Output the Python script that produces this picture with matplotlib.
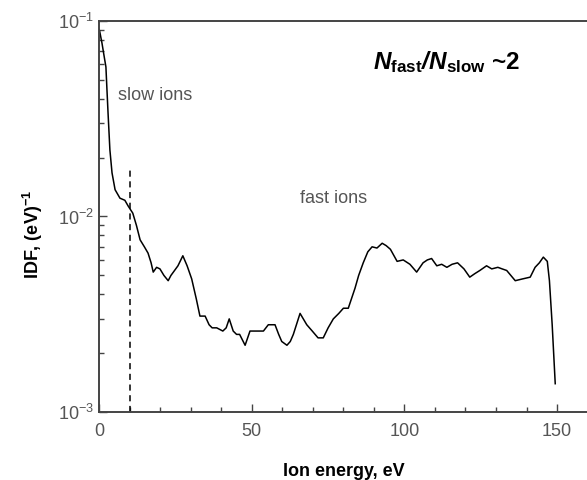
import matplotlib.pyplot as plt
import numpy as np

plt.rcParams['font.family'] = ['Liberation Sans', 'DejaVu Sans']
plt.rcParams['mathtext.fontset'] = 'custom'
plt.rcParams['mathtext.rm'] = 'Liberation Sans'
plt.rcParams['mathtext.it'] = 'Liberation Sans:italic'
plt.rcParams['mathtext.bf'] = 'Liberation Sans:bold'
plt.rcParams['mathtext.bfit'] = 'Liberation Sans:italic:bold'

# ion energy distribution function
energy = [0.0, 0.2, 0.9, 1.6, 2.2, 2.5, 2.9, 3.5, 4.2, 5.2, 6.8, 8.4, 9.5, 11.0,
          12.2, 13.4, 14.8, 16.0, 17.0, 17.7, 18.8, 19.9, 21.2, 22.6, 23.5, 24.3,
          25.8, 27.4, 28.8, 30.3, 31.8, 33.0, 34.7, 36.0, 37.0, 38.5, 40.5, 41.6,
          42.6, 43.9, 45.0, 46.0, 47.8, 49.4, 50.8, 52.0, 53.8, 55.4, 57.6, 58.8,
          59.8, 61.5, 62.6, 63.6, 65.8, 68.0, 69.8, 71.7, 73.4, 75.0, 76.7, 78.5,
          80.0, 81.6, 83.8, 85.0, 86.5, 88.0, 89.4, 91.0, 92.7, 94.0, 95.4, 97.6,
          99.6, 101.8, 104.0, 106.1, 107.5, 108.9, 110.6, 112.2, 113.9, 115.6,
          117.4, 119.5, 121.4, 123.0, 124.7, 126.9, 128.6, 130.6, 132.0, 133.5,
          136.3, 138.7, 141.2, 142.8, 144.2, 145.5, 146.8, 147.5, 148.4, 149.4]
idf = [0.090, 0.0875, 0.0769, 0.066, 0.058, 0.0458, 0.0337, 0.0219, 0.0167,
       0.0137, 0.0124, 0.0121, 0.0113, 0.0104, 0.0090, 0.0076, 0.0070, 0.0065,
       0.0058, 0.0052, 0.0055, 0.0054, 0.0050, 0.0047, 0.0050, 0.0052, 0.0056,
       0.0063, 0.0056, 0.0048, 0.0038, 0.0031, 0.0031, 0.0028, 0.0027, 0.0027,
       0.0026, 0.0027, 0.0030, 0.0026, 0.0025, 0.0025, 0.0022, 0.0026, 0.0026,
       0.0026, 0.0026, 0.0028, 0.0028, 0.0025, 0.0023, 0.0022, 0.0023, 0.0025,
       0.0032, 0.0028, 0.0026, 0.0024, 0.0024, 0.0027, 0.0030, 0.0032, 0.0034,
       0.0034, 0.0043, 0.0050, 0.0058, 0.0066, 0.0070, 0.0069, 0.0073, 0.0071,
       0.0068, 0.0059, 0.0060, 0.0057, 0.0052, 0.0058, 0.0060, 0.0061, 0.0056,
       0.0057, 0.0055, 0.0057, 0.0058, 0.0054, 0.0049, 0.0051, 0.0053, 0.0056,
       0.0054, 0.0055, 0.0054, 0.0053, 0.0047, 0.0048, 0.0049, 0.0055, 0.0058,
       0.0062, 0.0059, 0.0047, 0.0028, 0.0014]

cut_energy = 10.0
cut_top = 0.0177

fig = plt.figure(figsize=(5.87, 4.8), dpi=100)
ax = fig.add_axes([0.169, 0.141, 0.832, 0.816])

ax.plot(energy, idf, color='black', lw=1.1)
ax.plot([cut_energy, cut_energy], [1e-3, cut_top], color='black', lw=1.1, ls=(0, (4, 3)))

ax.set_yscale('log')
ax.set_xlim(0, 160)
ax.set_ylim(1e-3, 1e-1)
ax.set_xticks([0, 50, 100, 150])
ax.set_xticks(np.arange(0, 161, 10), minor=True)
ax.set_yticks([1e-3, 1e-2, 1e-1])
ax.set_yticklabels(['10$^{-3}$', '10$^{-2}$', '10$^{-1}$'])

gray = '#555555'
ax.tick_params(which='both', direction='in', top=False, right=False,
               labelsize=13, labelcolor=gray, color='#444444')
ax.tick_params(which='major', length=6, width=1)
ax.tick_params(which='minor', length=3.5, width=1)
ax.tick_params(axis='x', pad=8)

for side in ['left', 'bottom', 'top']:
    ax.spines[side].set_color('#444444')
    ax.spines[side].set_linewidth(1.4)
ax.spines['right'].set_visible(False)

ax.set_xlabel('Ion energy, eV', fontsize=13, fontweight='bold', labelpad=16)
ax.set_ylabel('IDF, (eV)$^{\\mathbf{-1}}$', fontsize=13, fontweight='bold')
ax.yaxis.set_label_coords(-0.11, 0.455)

ax.text(6, 0.0417, 'slow ions', fontsize=13, color=gray, va='center')
ax.text(65.9, 0.0124, 'fast ions', fontsize=13, color=gray, va='center')
ax.text(89.8, 0.0615,
        r'$\mathbfit{N}_{\mathbf{fast}}\mathbfit{/N}_{\mathbf{slow}}$ ~2',
        fontsize=17.5, fontweight='bold', va='center')

fig.savefig('out.png', dpi=100)
